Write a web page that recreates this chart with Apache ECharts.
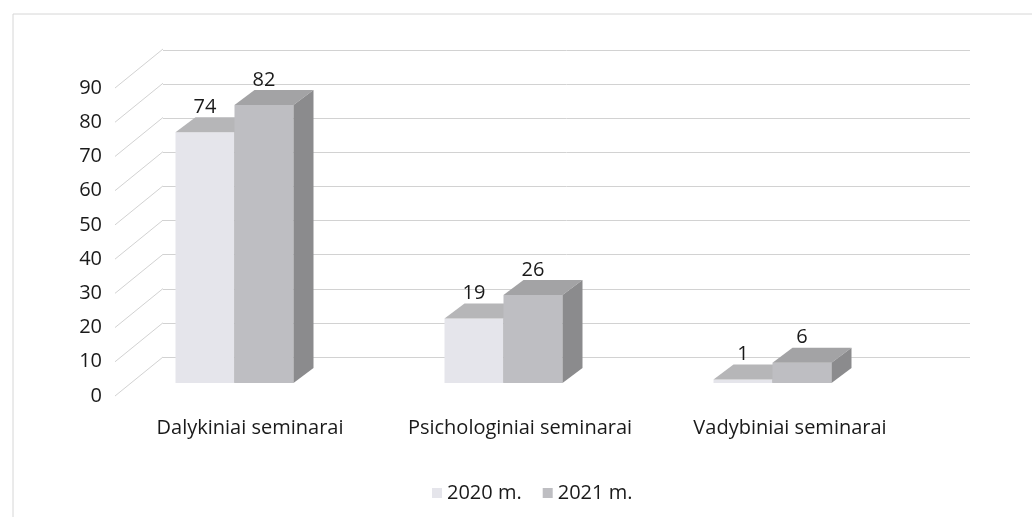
<!DOCTYPE html>
<html>
<head>
<meta charset="utf-8">
<script src="https://cdn.jsdelivr.net/npm/echarts@6/dist/echarts.min.js"></script>
<style>
  html, body { margin: 0; padding: 0; background: #fff; }
  #chart { width: 1032px; height: 517px; }
</style>
</head>
<body>
<div id="chart"></div>
<script>
var categories = ['Dalykiniai seminarai', 'Psichologiniai seminarai', 'Vadybiniai seminarai'];
var seriesNames = ['2020 m.', '2021 m.'];
var values2020 = [74, 19, 1];
var values2021 = [82, 26, 6];
var yTicks = [0, 10, 20, 30, 40, 50, 60, 70, 80, 90];

var chart = echarts.init(document.getElementById('chart'));
var FONT = 'Open Sans';
var DX = 20, DY = -15;      // bar depth
var WX = 48, WY = -39;      // wall depth
var BW = 59;                // bar front width

// face colours: front, top, side
var faces = [
    ['#e5e5eb', '#b6b6b8', '#9a9a9c'],
    ['#bebec2', '#a3a3a5', '#8b8b8d']
];

function barRender(idx) {
    return function (params, api) {
        var base = api.coord([api.value(0), 0]);
        var top = api.coord([api.value(0), api.value(1)]);
        var x0 = idx === 0 ? base[0] - BW : base[0];
        var y0 = top[1], y1 = base[1];
        var c = faces[idx];
        return {
            type: 'group',
            children: [
                {type: 'rect', shape: {x: x0, y: y0, width: BW, height: y1 - y0}, style: {fill: c[0]}},
                {type: 'polygon', shape: {points: [[x0, y0], [x0 + DX, y0 + DY], [x0 + BW + DX, y0 + DY], [x0 + BW, y0]]}, style: {fill: c[1]}},
                {type: 'polygon', shape: {points: [[x0 + BW, y0], [x0 + BW + DX, y0 + DY], [x0 + BW + DX, y1 + DY], [x0 + BW, y1]]}, style: {fill: c[2]}},
                {type: 'text', style: {x: x0 + BW / 2, y: y0 + DY, text: String(api.value(1)),
                    fill: '#1a1a1a', font: '20px "' + FONT + '"', align: 'center', verticalAlign: 'bottom'}}
            ]
        };
    };
}

var option = {
    backgroundColor: '#fff',
    animation: false,
    graphic: [{
        type: 'rect', shape: {x: 13, y: 14, width: 1030, height: 520},
        style: {fill: 'none', stroke: '#d6d6d6', lineWidth: 1}, silent: true
    }],
    legend: {
        top: 478, left: 427, icon: 'rect', itemWidth: 10, itemHeight: 10, itemGap: 21,
        data: seriesNames,
        textStyle: {fontFamily: FONT, fontSize: 20, color: '#1a1a1a'}
    },
    grid: [
        {left: 100, right: 125, top: 78, bottom: 134},   // bars
        {left: 163, right: 62, top: 50, bottom: 160},    // back wall
        {left: 115, right: 107, top: 88, bottom: 121}    // front labels
    ],
    xAxis: [
        {gridIndex: 0, type: 'category', data: categories, show: false},
        {gridIndex: 1, type: 'category', data: categories, show: false},
        {gridIndex: 2, type: 'category', data: categories,
            axisLine: {show: false}, axisTick: {show: false},
            axisLabel: {interval: 0, hideOverlap: false, margin: 22, fontFamily: FONT, fontSize: 20, color: '#1a1a1a'}}
    ],
    yAxis: [
        {gridIndex: 0, type: 'value', min: 0, max: 90, show: false},
        {gridIndex: 1, type: 'value', min: 0, max: 90, interval: 10,
            axisLine: {show: false}, axisTick: {show: false}, axisLabel: {show: false},
            splitLine: {lineStyle: {color: '#d2d2d2', width: 1}}},
        {gridIndex: 2, type: 'value', min: 0, max: 90, interval: 10,
            axisLine: {show: false}, axisTick: {show: false}, splitLine: {show: false},
            axisLabel: {margin: 13, fontFamily: FONT, fontSize: 20, color: '#1a1a1a'}}
    ],
    series: [
        {
            type: 'custom', xAxisIndex: 2, yAxisIndex: 2, silent: true,
            data: yTicks.map(function (v) { return [0, v]; }),
            renderItem: function (params, api) {
                var p = api.coord([0, api.value(1)]);
                var x = params.coordSys.x;
                return {type: 'line', shape: {x1: x, y1: p[1], x2: x + WX, y2: p[1] + WY},
                    style: {stroke: '#d2d2d2', lineWidth: 1}};
            }
        },
        {
            name: seriesNames[0], type: 'custom', xAxisIndex: 0, yAxisIndex: 0, z: 3,
            itemStyle: {color: faces[0][0]},
            data: categories.map(function (c, i) { return [i, values2020[i]]; }),
            renderItem: barRender(0)
        },
        {
            name: seriesNames[1], type: 'custom', xAxisIndex: 0, yAxisIndex: 0, z: 4,
            itemStyle: {color: faces[1][0]},
            data: categories.map(function (c, i) { return [i, values2021[i]]; }),
            renderItem: barRender(1)
        }
    ]
};

chart.setOption(option);
</script>
</body>
</html>
